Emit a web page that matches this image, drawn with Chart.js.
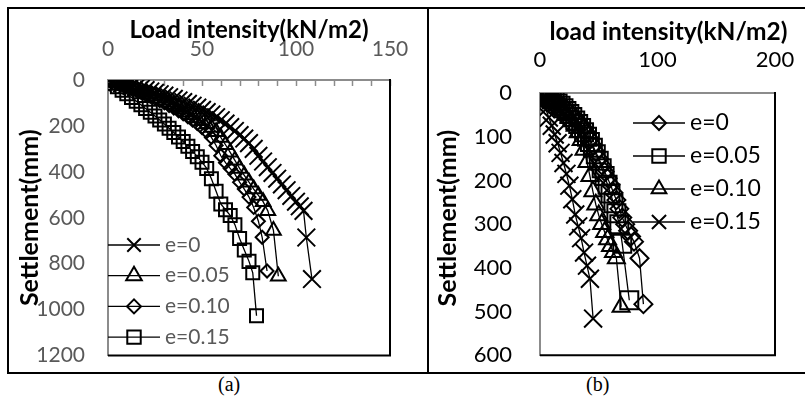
<!DOCTYPE html>
<html><head><meta charset="utf-8">
<script src="https://cdn.jsdelivr.net/npm/chart.js@4/dist/chart.umd.min.js"></script>
<style>
body{margin:0;background:#fff;width:805px;height:400px;position:relative;overflow:hidden}
#frame{position:absolute;left:7px;top:7px;width:805px;height:363px;border-top:2px solid #000;border-bottom:2px solid #000;border-left:2px solid #000}
#divider{position:absolute;left:427px;top:7px;width:2px;height:366px;background:#000}
.cap{position:absolute;top:373px;font-family:"Liberation Serif";font-size:20px;color:#000}
#ca{position:absolute;left:9px;top:10px;width:418px;height:360px}
#cb{position:absolute;left:430px;top:10px;width:370px;height:360px}
</style></head>
<body>
<div id="frame"></div><div id="divider"></div>
<div class="cap" style="left:218px">(a)</div>
<div class="cap" style="left:586px">(b)</div>
<canvas id="ca" width="418" height="360"></canvas>
<canvas id="cb" width="370" height="360"></canvas>
<script>
// ---------- Panel (a) data ----------
const aLabels = ['e=0','e=0.05','e=0.10','e=0.15'];
const aLoad0 = [0,2.5,5,7.5,10,12.5,15,17.5,20,22.5,25,27.5,30,32.5,35,37.5,40,42.5,45,47.5,50,52.5,55,57.5,60,62.5,65,67.5,70,72.5,75,77.5,80,82.5,85,87.5,90,92.5,95,97.5,100,102,104,105.5,108.5];
const aSet0  = [0,5,10,15,20,26,32,38,44,50,56,62,68,75,82,89,96,104,112,120,130,140,150,162,175,190,205,222,240,255,275,300,330,355,380,405,430,455,480,505,530,550,570,686,867];
const aLoad05 = [0,2.5,5,7.5,10,12.5,15,17.5,20,22.5,25,27.5,30,32.5,35,37.5,40,42.5,45,47.5,50,52.5,55,57.5,60,62.5,65,67.5,70,72.5,75,77.5,80,82.5,85,88,90.6];
const aSet05  = [0,6,12,18,25,32,39,46,54,62,70,79,88,97,107,117,128,140,152,165,178,192,207,225,250,282,315,350,385,415,445,475,503,530,570,655,855];
const aLoad10 = [0,2.5,5,7.5,10,12.5,15,17.5,20,22.5,25,27.5,30,32.5,35,37.5,40,42.5,45,47.5,50,52.5,55,57.5,60,62.5,65,67.5,70,72.5,75,77.5,80,82,84.6];
const aSet10  = [0,7,14,21,29,37,45,53,62,71,80,90,100,111,122,134,147,160,175,190,207,225,250,285,330,360,385,410,445,475,510,555,615,685,832];
const aLoad15 = [0,2.5,5,7.5,10,12.5,15,17.5,20,22.5,25,27.5,30,32.5,35,37.5,40,42.5,45,47.5,50,52.5,55,57.5,60,62.5,65,67.5,70,72.5,75,77,79];
const aSet15  = [0,14,29,45,60,76,92,108,124,140,157,174,192,210,229,248,268,289,311,334,358,385,430,485,540,565,590,630,690,740,790,840,1027];
const aXTicks = [0,50,100,150];
const aYTicks = [0,200,400,600,800,1000,1200];

// ---------- Panel (b) data ----------
const bLabels = ['e=0','e=0.05','e=0.10','e=0.15'];
const bLoad0 = [0,2.5,5,7.5,10,12.5,15,17.5,20,22.5,25,27.5,30,32.5,35,37.5,40,42.5,45,47.5,50,52.5,55,57.5,60,62.5,65,67.5,70,72.5,75,77.5,80,84.7,88];
const bSet0  = [0,3,6,9,13,17,21,26,31,37,43,50,57,65,73,82,92,105,120,135,150,165,180,195,210,228,245,265,285,300,315,328,340,378,483];
const bLoad05 = [0,2.5,5,7.5,10,12.5,15,17.5,20,22.5,25,27.5,30,32.5,35,37.5,40,42.5,45,47.5,50,52.5,55,57.5,60,62.5,65,67.5,70,76];
const bSet05  = [0,3,7,11,15,19,24,29,35,41,48,55,63,71,80,90,100,112,125,140,155,172,190,210,230,252,275,300,345,474];
const bLoad10 = [0,2.5,5,7.5,10,12.5,15,17.5,20,22.5,25,27.5,30,32.5,35,37.5,40,42.5,45,47.5,50,52.5,55,57.5,60,62.5,65,69];
const bSet10  = [0,4,8,12,17,22,28,34,41,48,56,65,75,90,108,130,158,190,225,255,280,300,318,335,350,364,378,489];
const bLoad15 = [0,2.5,5,7.5,10,12.5,15,17.5,20,22.5,25,27.5,30,32.5,35,37.5,40,42.5,45.2];
const bSet15  = [0,18,37,56,75,95,115,137,160,185,212,243,278,305,332,365,395,425,516];
const bXTicks = [0,100,200];
const bYTicks = [0,100,200,300,400,500,600];

function pts(xs, ys){ return xs.map((x,i)=>({x:x, y:ys[i]})); }
function ds(label, xs, ys, style, r){
  return {label:label, data:pts(xs,ys), showLine:true, pointStyle:style, pointRadius:r,
    borderColor:'#000', backgroundColor:'rgba(0,0,0,0)', pointBorderColor:'#000',
    pointBackgroundColor:'rgba(0,0,0,0)', pointBorderWidth:2, borderWidth:1.3, tension:0};
}

function drawMarker(ctx, style, r, x, y){
  ctx.beginPath();
  if (style==='crossRot'){ const o=Math.SQRT1_2*r; ctx.moveTo(x-o,y-o);ctx.lineTo(x+o,y+o);ctx.moveTo(x+o,y-o);ctx.lineTo(x-o,y+o); }
  else if (style==='rect'){ const s=Math.SQRT1_2*r; ctx.rect(x-s,y-s,2*s,2*s); }
  else if (style==='rectRot'){ ctx.moveTo(x-r,y);ctx.lineTo(x,y-r);ctx.lineTo(x+r,y);ctx.lineTo(x,y+r);ctx.closePath(); }
  else if (style==='triangle'){ let a=0; ctx.moveTo(x+Math.sin(a)*r,y-Math.cos(a)*r); a+=2*Math.PI/3; ctx.lineTo(x+Math.sin(a)*r,y-Math.cos(a)*r); a+=2*Math.PI/3; ctx.lineTo(x+Math.sin(a)*r,y-Math.cos(a)*r); ctx.closePath(); }
  ctx.stroke();
}

const panelPlugin = {
  id:'panelPlugin',
  beforeDatasetsDraw(chart, args, opts){
    const ctx=chart.ctx, ca=chart.chartArea, xs=chart.scales.x;
    if (opts.minorStep){
      ctx.save(); ctx.strokeStyle=opts.axisColor; ctx.lineWidth=1.5;
      for (let v=xs.min; v<=xs.max; v+=opts.minorStep){
        const px=Math.round(xs.getPixelForValue(v))+0.5;
        ctx.beginPath(); ctx.moveTo(px,ca.top); ctx.lineTo(px,ca.top+6); ctx.stroke();
      }
      ctx.restore();
    }
  },
  afterDraw(chart, args, opts){
    const ctx=chart.ctx, ca=chart.chartArea;
    ctx.save();
    ctx.strokeStyle='#000'; ctx.lineWidth=2;
    ctx.beginPath(); ctx.moveTo(ca.left, ca.bottom); ctx.lineTo(ca.right, ca.bottom); ctx.lineTo(ca.right, ca.top-1); ctx.stroke();
    // axis titles
    const T=opts.titles;
    ctx.fillStyle='#000'; ctx.textAlign='center'; ctx.textBaseline='middle';
    ctx.font='bold '+T.xSize+'px Lato';
    ctx.fillText(T.x, (ca.left+ca.right)/2+T.xdx, T.xy);
    ctx.save();
    ctx.font='bold '+T.ySize+'px Lato';
    ctx.translate(T.yx, (ca.top+ca.bottom)/2+T.ydy);
    ctx.rotate(-Math.PI/2);
    ctx.fillText(T.y, 0, 0);
    ctx.restore();
    // legend
    const L=opts.legend;
    ctx.font = L.font; ctx.textBaseline='middle'; ctx.textAlign='left';
    L.order.forEach((di,i)=>{
      const d=chart.data.datasets[di];
      const y=L.y+i*L.dy;
      ctx.strokeStyle='#000'; ctx.lineWidth=1.3;
      ctx.beginPath(); ctx.moveTo(L.x0,y); ctx.lineTo(L.x1,y); ctx.stroke();
      ctx.lineWidth=2;
      drawMarker(ctx, d.pointStyle, L.radii[i], (L.x0+L.x1)/2, y);
      ctx.fillStyle=L.color;
      ctx.fillText(d.label, L.x1+5, y);
    });
    ctx.restore();
  }
};

function zeroPad(s){ s.paddingLeft=0; s.paddingRight=0; s.paddingTop=0; s.paddingBottom=0; }

function makeScales(p){
  return {
    x:{type:'linear', position:'top', min:p.xmin, max:p.xmax,
       afterBuildTicks(s){ s.ticks=p.xticks.map(v=>({value:v})); },
       ticks:{color:p.tickColor, font:{family:'Lato', size:p.tickSize}, padding:p.xPad, maxRotation:0, callback:v=>String(v)},
       grid:{display:true, drawOnChartArea:false, drawTicks:false, color:'rgba(0,0,0,0)'},
       border:{display:true, color:'#8c8c8c', width:2},
       title:{display:false},
       afterFit(s){ s.height=p.top; zeroPad(s); }},
    y:{type:'linear', reverse:true, min:p.ymin, max:p.ymax,
       afterBuildTicks(s){ s.ticks=p.yticks.map(v=>({value:v})); },
       ticks:{color:p.tickColor, font:{family:'Lato', size:p.tickSize}, padding:p.yPad, callback:v=>String(v)},
       grid:{display:true, drawOnChartArea:false, drawTicks:false, color:'rgba(0,0,0,0)'},
       border:{display:true, color:'#8c8c8c', width:2},
       title:{display:false},
       afterFit(s){ s.width=p.left; zeroPad(s); }}
  };
}

new Chart(document.getElementById('ca'), {
  type:'scatter',
  data:{datasets:[
    ds(aLabels[0], aLoad0, aSet0, 'crossRot', 12.5),
    ds(aLabels[1], aLoad05, aSet05, 'triangle', 8.5),
    ds(aLabels[2], aLoad10, aSet10, 'rectRot', 6.5),
    ds(aLabels[3], aLoad15, aSet15, 'rect', 9.2)
  ]},
  options:{responsive:false, animation:false, devicePixelRatio:1,
    layout:{padding:{left:0, top:0, right:37, bottom:13}},
    plugins:{legend:{display:false}, tooltip:{enabled:false},
      panelPlugin:{minorStep:10, axisColor:'#8c8c8c',
        titles:{x:'Load intensity(kN/m2)', xSize:24, xdx:0, xy:20, y:'Settlement(mm)', ySize:25, yx:21, ydy:0},
        legend:{x0:99, x1:151, y:235, dy:30.7, font:'21px Lato', color:'#595959', order:[0,1,2,3], radii:[9.5,9,7,9.5]}}},
    scales:makeScales({xmin:0,xmax:150,ymin:0,ymax:1200,xticks:aXTicks,yticks:aYTicks,tickColor:'#595959',tickSize:21,
      xPad:18,yPad:23,top:70,left:99})
  },
  plugins:[panelPlugin]
});

new Chart(document.getElementById('cb'), {
  type:'scatter',
  data:{datasets:[
    ds(bLabels[0], bLoad0, bSet0, 'rectRot', 9),
    ds(bLabels[1], bLoad05, bSet05, 'rect', 12.7),
    ds(bLabels[2], bLoad10, bSet10, 'triangle', 9.8),
    ds(bLabels[3], bLoad15, bSet15, 'crossRot', 12.7)
  ]},
  options:{responsive:false, animation:false, devicePixelRatio:1,
    layout:{padding:{left:0, top:0, right:25, bottom:14}},
    plugins:{legend:{display:false}, tooltip:{enabled:false},
      panelPlugin:{minorStep:0,
        titles:{x:'load intensity(kN/m2)', xSize:24.5, xdx:11, xy:22, y:'Settlement(mm)', ySize:25, yx:18, ydy:-6},
        legend:{x0:203, x1:255, y:113, dy:33, font:'23px Lato', color:'#000', order:[0,1,2,3], radii:[7,9.5,8.5,10]}}},
    scales:makeScales({xmin:0,xmax:200,ymin:0,ymax:600,xticks:bXTicks,yticks:bYTicks,tickColor:'#000',tickSize:22,
      xPad:20,yPad:28,top:83,left:110})
  },
  plugins:[panelPlugin]
});
</script>
</body></html>
